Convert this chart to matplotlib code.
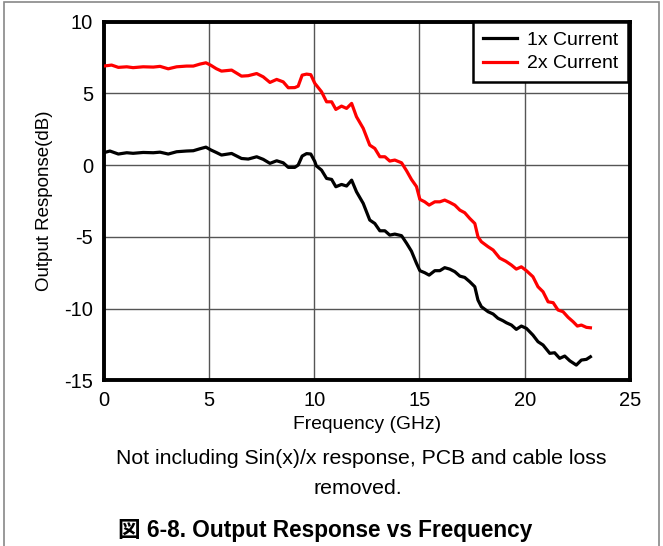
import matplotlib
matplotlib.use("Agg")
import matplotlib.pyplot as plt
from matplotlib.patches import Rectangle

plt.rcParams['font.family'] = ['Liberation Sans', 'Noto Sans CJK JP', 'DejaVu Sans']
plt.rcParams['axes.unicode_minus'] = False

# Data
freq_1x = [0.0, 0.3, 0.7, 1.1, 1.4, 1.88, 2.36, 2.68, 3.07, 3.47, 3.94, 4.26, 4.58, 4.86, 5.1,
           5.35, 5.6, 6.08, 6.55, 6.87, 7.27, 7.58, 7.9, 8.22, 8.53, 8.77, 9.08, 9.24, 9.43, 9.64,
           9.84, 10.03, 10.1, 10.35, 10.59, 10.83, 11.03, 11.3, 11.54, 11.78, 12.01, 12.33, 12.64,
           12.88, 13.12, 13.36, 13.59, 13.83, 14.15, 14.39, 14.62, 14.86, 15.02, 15.25, 15.46,
           15.73, 15.97, 16.2, 16.44, 16.68, 16.92, 17.15, 17.39, 17.63, 17.78, 17.94, 18.26,
           18.5, 18.73, 18.97, 19.13, 19.37, 19.6, 19.84, 20.08, 20.39, 20.63, 20.87, 21.19,
           21.42, 21.66, 21.9, 22.14, 22.45, 22.69, 22.93, 23.12]
resp_1x = [0.86, 0.98, 0.77, 0.86, 0.82, 0.88, 0.86, 0.90, 0.77, 0.93, 0.98, 1.00, 1.14, 1.25, 1.05,
           0.88, 0.70, 0.81, 0.46, 0.42, 0.58, 0.40, 0.12, 0.30, 0.16, -0.16, -0.16, 0.0, 0.63, 0.80,
           0.77, 0.25, -0.05, -0.35, -0.93, -1.0, -1.51, -1.35, -1.46, -1.05, -1.86, -2.67, -3.83,
           -4.07, -4.58, -4.58, -4.88, -4.81, -4.92, -5.45, -6.0, -6.85, -7.36, -7.5, -7.67,
           -7.36, -7.36, -7.15, -7.25, -7.43, -7.74, -7.83, -8.13, -8.48, -9.41, -9.87, -10.22,
           -10.38, -10.68, -10.85, -10.99, -11.15, -11.45, -11.22, -11.38, -11.85, -12.31, -12.54, -13.12,
           -13.08, -13.47, -13.31, -13.64, -13.94, -13.59, -13.54, -13.36]

freq_2x = [0.0, 0.38, 0.7, 1.1, 1.4, 1.88, 2.36, 2.68, 3.07, 3.47, 3.94, 4.26, 4.58, 4.86, 5.1,
           5.35, 5.6, 6.08, 6.55, 6.87, 7.27, 7.58, 7.9, 8.22, 8.53, 8.77, 9.08, 9.24, 9.43, 9.64,
           9.84, 10.03, 10.35, 10.59, 10.83, 11.03, 11.3, 11.54, 11.78, 12.01, 12.33, 12.64,
           12.88, 13.12, 13.36, 13.59, 13.83, 14.15, 14.39, 14.62, 14.86, 15.02, 15.25, 15.46,
           15.73, 15.97, 16.2, 16.44, 16.68, 16.92, 17.15, 17.39, 17.63, 17.78, 17.94, 18.26,
           18.5, 18.81, 19.1, 19.37, 19.6, 19.84, 20.08, 20.39, 20.63, 20.87, 21.11, 21.35,
           21.58, 21.82, 22.06, 22.3, 22.5, 22.69, 22.93, 23.12]
resp_2x = [6.9, 6.97, 6.81, 6.85, 6.79, 6.85, 6.83, 6.88, 6.71, 6.85, 6.9, 6.9, 7.04, 7.13, 6.95,
           6.72, 6.55, 6.62, 6.2, 6.23, 6.38, 6.15, 5.76, 5.97, 5.8, 5.39, 5.4, 5.5, 6.27, 6.34,
           6.3, 5.7, 5.11, 4.41, 4.41, 3.88, 4.11, 3.95, 4.3, 3.37, 2.56, 1.39,
           1.16, 0.58, 0.58, 0.28, 0.35, 0.16, -0.4, -1.0, -1.5, -2.39, -2.56, -2.79,
           -2.56, -2.56, -2.44, -2.6, -2.79, -3.14, -3.32, -3.72, -4.07, -5.0, -5.34, -5.69,
           -5.92, -6.48, -6.7, -6.97, -7.25, -7.09, -7.36, -7.78, -8.48, -8.83, -9.53, -9.59,
           -10.1, -10.22, -10.61, -10.92, -11.22, -11.15, -11.31, -11.34]

series_labels = ["1x Current", "2x Current"]
x_ticks = [0, 5, 10, 15, 20, 25]
y_ticks = [-15, -10, -5, 0, 5, 10]

W, H = 663, 546
fig = plt.figure(figsize=(W / 100, H / 100), dpi=100)
ax = fig.add_axes([103.6 / W, 1 - 380.3 / H, (630 - 103.6) / W, (380.3 - 21.6) / H])

ax.plot(freq_1x, resp_1x, color='black', lw=2.3, label=series_labels[0], zorder=3)
ax.plot(freq_2x, resp_2x, color='#ff0000', lw=2.3, label=series_labels[1], zorder=3)

ax.set_xlim(0, 25)
ax.set_ylim(-15, 10)
ax.set_xticks(x_ticks)
ax.set_yticks(y_ticks)
ax.tick_params(axis='both', labelsize=14.5, length=0, pad=7.5, colors='black')
ax.grid(True, color='#555555', lw=1.0)
ax.set_axisbelow(True)
for s in ax.spines.values():
    s.set_linewidth(2.8)
    s.set_color('black')

ax.set_xlabel("Frequency (GHz)", fontsize=13.9, labelpad=4.5)
ax.set_ylabel("Output Response(dB)", fontsize=13.5, labelpad=8)

leg = ax.legend(loc='upper right', bbox_to_anchor=(0.996, 1.0), fontsize=14,
                frameon=True, fancybox=False, edgecolor='black', framealpha=1,
                handlelength=1.75, borderpad=0.5, labelspacing=0.3, handletextpad=0.5,
                borderaxespad=0.0)
leg.get_frame().set_linewidth(1.8)

fig.text(361 / W, 1 - 458 / H,
         "Not including Sin(x)/x response, PCB and cable loss",
         ha='center', va='center', fontsize=15.3)
fig.text(358 / W, 1 - 489 / H, "removed.",
         ha='center', va='center', fontsize=15.3)
fig.text(325 / W, 1 - 530 / H, "図 6-8. Output Response vs Frequency",
         ha='center', va='center', fontsize=16.3, fontweight='bold')

fig.patches.append(Rectangle((4 / W, -0.02), (659 - 4) / W, 1 - 2 / H + 0.02,
                             transform=fig.transFigure, fill=False,
                             edgecolor='#888888', lw=1.2))

fig.savefig("out.png", dpi=100)
